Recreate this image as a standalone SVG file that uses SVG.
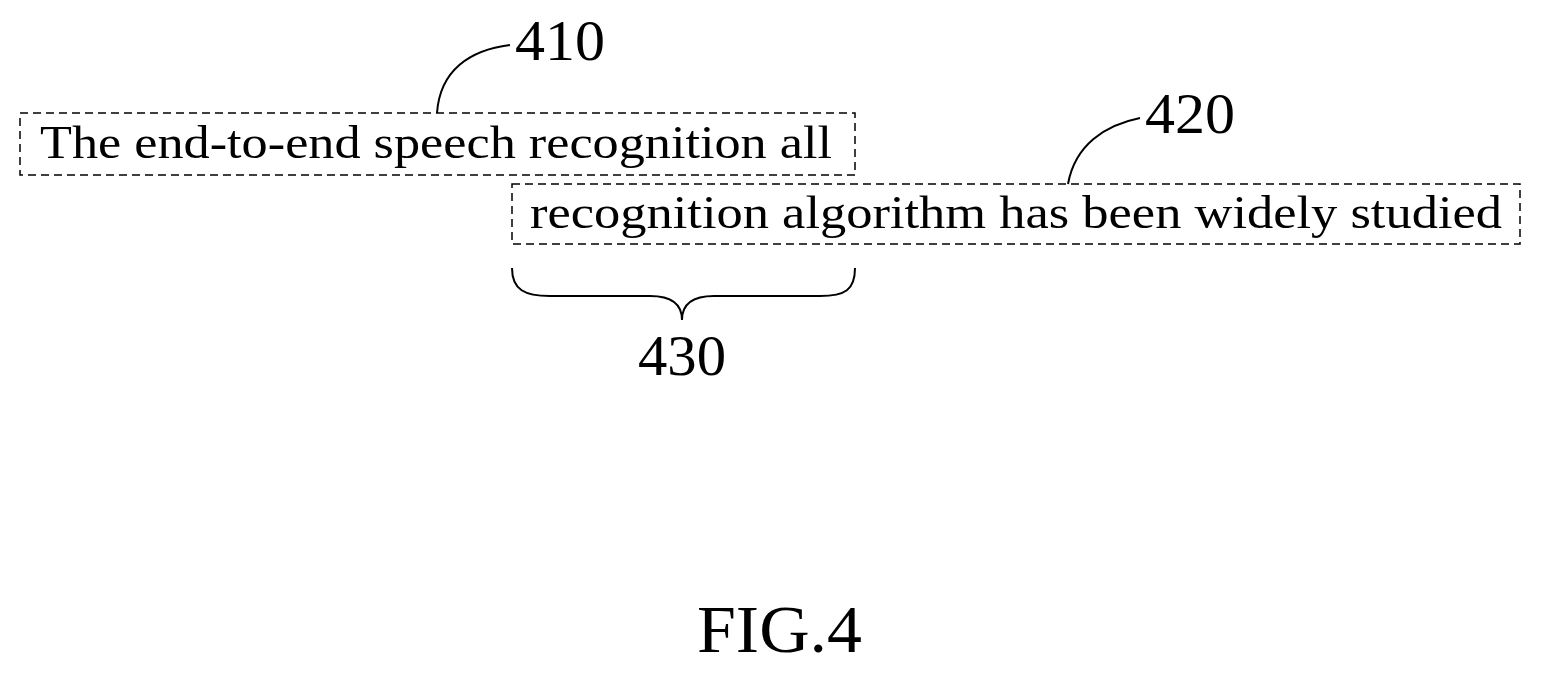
<svg xmlns="http://www.w3.org/2000/svg" width="1541" height="673" viewBox="0 0 1541 673">
<style>
.t{font-family:"Liberation Serif",serif;fill:#000}
.box{fill:none;stroke:#000;stroke-width:1.5;stroke-dasharray:8,5}
.ln{fill:none;stroke:#000;stroke-width:2}
</style>
<rect width="1541" height="673" fill="#fff"/>
<g id="n410">
<rect class="box" x="20" y="113" width="835" height="62"/>
<text class="t" x="40" y="158" font-size="46" textLength="792" lengthAdjust="spacingAndGlyphs">The end-to-end speech recognition all</text>
</g>
<g id="n420">
<rect class="box" x="512" y="184" width="1008" height="60"/>
<text class="t" x="530" y="228" font-size="46" textLength="972" lengthAdjust="spacingAndGlyphs">recognition algorithm has been widely studied</text>
</g>
<g id="labels">
<text class="t" x="515" y="60" font-size="56" textLength="90" lengthAdjust="spacingAndGlyphs">410</text>
<text class="t" x="1145" y="133" font-size="56" textLength="90" lengthAdjust="spacingAndGlyphs">420</text>
<text class="t" x="638" y="375" font-size="56" textLength="88" lengthAdjust="spacingAndGlyphs">430</text>
<text class="t" x="697" y="652" font-size="68" textLength="165" lengthAdjust="spacingAndGlyphs">FIG.4</text>
</g>
<g id="connectors">
<path class="ln" d="M437,113 C440,70 470,50 510,45"/>
<path class="ln" d="M1068,184 C1075,145 1105,125 1140,118"/>
<path class="ln" d="M512,268 C512,290 525,296 550,296 L650,296 C672,296 682,305 682,320 C682,305 692,296 714,296 L820,296 C845,296 855,290 855,268"/>
</g>
</svg>
